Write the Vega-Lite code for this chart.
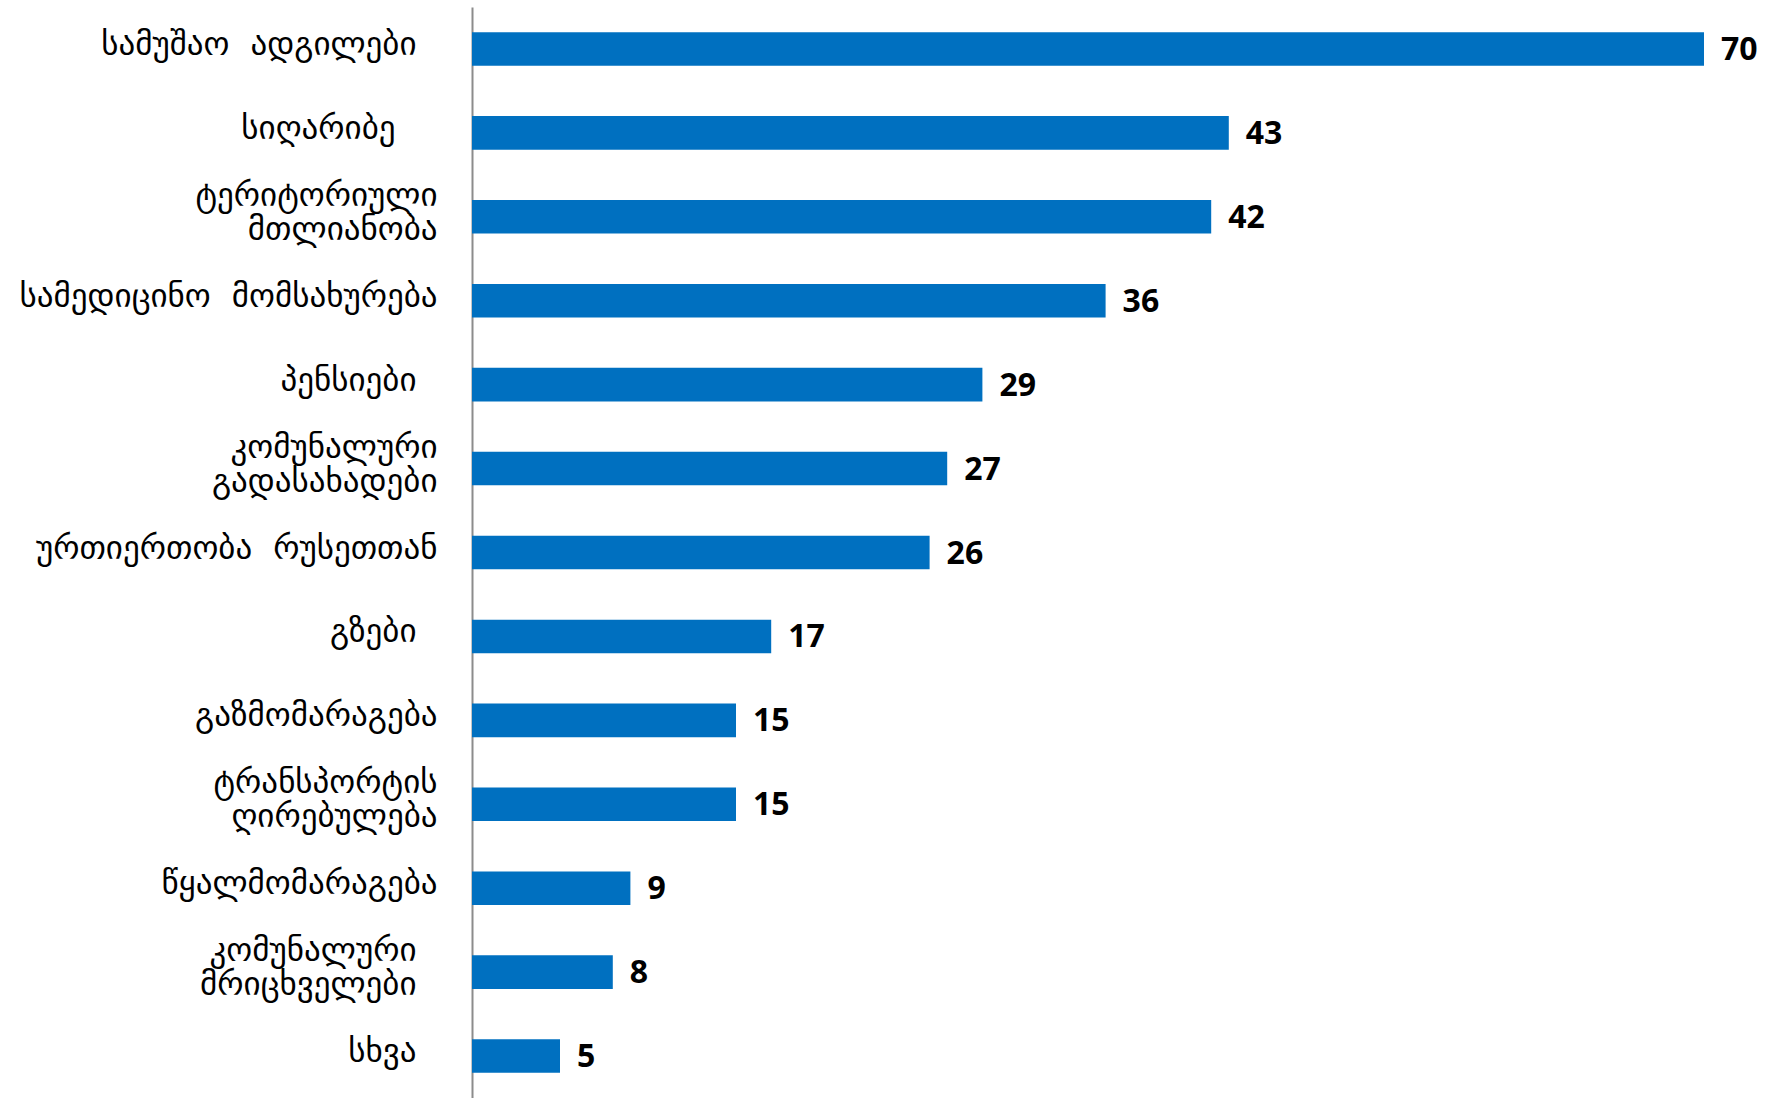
{
  "$schema": "https://vega.github.io/schema/vega-lite/v6.json",
  "autosize": "none",
  "width": 1232,
  "height": 1091,
  "padding": {"left": 472, "top": 7, "right": 65, "bottom": 0},
  "background": "white",
  "config": {"view": {"stroke": null}},
  "data": {
    "values": [
      {"label": "სამუშაო  ადგილები  ", "value": 70},
      {"label": "სიღარიბე    ", "value": 43},
      {"label": "ტერიტორიული|მთლიანობა", "value": 42},
      {"label": "სამედიცინო  მომსახურება", "value": 36},
      {"label": "პენსიები  ", "value": 29},
      {"label": "კომუნალური|გადასახადები", "value": 27},
      {"label": "ურთიერთობა  რუსეთთან", "value": 26},
      {"label": "გზები  ", "value": 17},
      {"label": "გაზმომარაგება", "value": 15},
      {"label": "ტრანსპორტის|ღირებულება", "value": 15},
      {"label": "წყალმომარაგება", "value": 9},
      {"label": "კომუნალური  |მრიცხველები  ", "value": 8},
      {"label": "სხვა  ", "value": 5}
    ]
  },
  "encoding": {
    "y": {
      "field": "label",
      "type": "nominal",
      "sort": null,
      "scale": {"paddingInner": 0.6, "paddingOuter": 0.3},
      "axis": {
        "title": null,
        "ticks": false,
        "labelExpr": "split(indexof(datum.label, '|') >= 0 ? replace(replace(datum.label, / /g, '\u00a0'), /\\|/g, '\u200b|\u200b|') + '\u200b' : '\u200b|' + replace(datum.label, / /g, '\u00a0') + '\u200b', '|')",
        "labelFont": "DejaVu Sans",
        "labelFontSize": 33,
        "labelColor": "#000000",
        "labelLineHeight": 17,
        "labelOffset": -21,
        "labelPadding": 35,
        "labelLimit": 0,
        "labelBaseline": "middle",
        "domainColor": "#8c8c8c",
        "domainWidth": 2
      }
    },
    "x": {
      "field": "value",
      "type": "quantitative",
      "scale": {"domain": [0, 70], "nice": false},
      "axis": null
    }
  },
  "layer": [
    {"mark": {"type": "bar", "color": "#0070C0"}},
    {
      "mark": {
        "type": "text",
        "align": "left",
        "baseline": "middle",
        "dx": 17,
        "dy": 1,
        "font": "Open Sans",
        "fontWeight": "bold",
        "fontSize": 32,
        "color": "#000000"
      },
      "encoding": {"text": {"field": "value", "type": "quantitative"}}
    }
  ]
}
